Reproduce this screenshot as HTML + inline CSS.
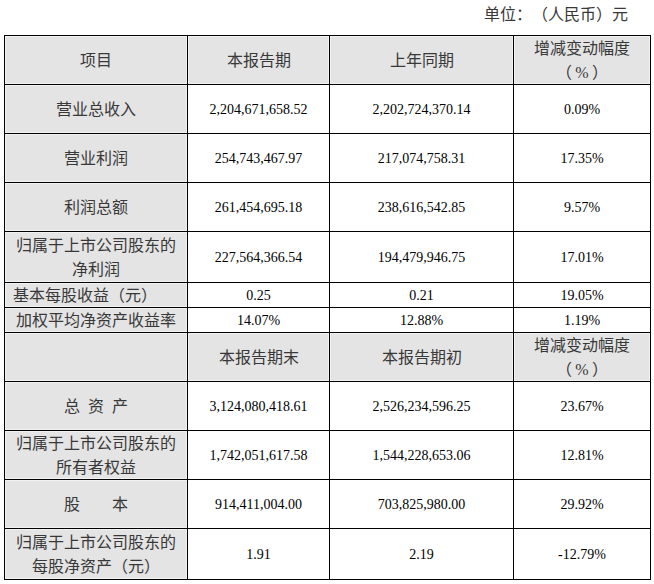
<!DOCTYPE html>
<html lang="zh-CN"><head><meta charset="utf-8"><title>table</title>
<style>
html,body{margin:0;padding:0;background:#fff;}
body{width:654px;height:584px;position:relative;overflow:hidden;text-spacing-trim:space-all;font-family:"Liberation Serif",serif;color:#000;}
.hl{position:absolute;height:1px;background:#000;}
.vl{position:absolute;width:1px;background:#000;}
.g{position:absolute;background:#e4e4e4;box-shadow:inset 0 0 0 1px #f2f2f2;}
.t{position:absolute;display:flex;align-items:center;justify-content:center;text-align:center;white-space:nowrap;}
.cj{color:#383838;font-size:16px;line-height:24px;}
.nm{font-size:14px;line-height:24px;}
.pc{margin:0 3px;}
.unit{color:#383838;position:absolute;font-size:16px;line-height:20px;white-space:nowrap;}
</style></head><body>

<div class="g" style="left:5px;top:36px;width:182px;height:48px"></div>
<div class="g" style="left:188px;top:36px;width:141px;height:48px"></div>
<div class="g" style="left:330px;top:36px;width:183px;height:48px"></div>
<div class="g" style="left:514px;top:36px;width:136px;height:48px"></div>
<div class="g" style="left:5px;top:85px;width:182px;height:48px"></div>
<div class="g" style="left:5px;top:134px;width:182px;height:48px"></div>
<div class="g" style="left:5px;top:183px;width:182px;height:48px"></div>
<div class="g" style="left:5px;top:232px;width:182px;height:50px"></div>
<div class="g" style="left:5px;top:283px;width:182px;height:24px"></div>
<div class="g" style="left:5px;top:308px;width:182px;height:24px"></div>
<div class="g" style="left:5px;top:333px;width:182px;height:48px"></div>
<div class="g" style="left:188px;top:333px;width:141px;height:48px"></div>
<div class="g" style="left:330px;top:333px;width:183px;height:48px"></div>
<div class="g" style="left:514px;top:333px;width:136px;height:48px"></div>
<div class="g" style="left:5px;top:382px;width:182px;height:48px"></div>
<div class="g" style="left:5px;top:431px;width:182px;height:48px"></div>
<div class="g" style="left:5px;top:480px;width:182px;height:48px"></div>
<div class="g" style="left:5px;top:529px;width:182px;height:50px"></div>
<div class="hl" style="left:4px;top:35px;width:647px"></div>
<div class="hl" style="left:4px;top:84px;width:647px"></div>
<div class="hl" style="left:4px;top:133px;width:647px"></div>
<div class="hl" style="left:4px;top:182px;width:647px"></div>
<div class="hl" style="left:4px;top:231px;width:647px"></div>
<div class="hl" style="left:4px;top:282px;width:647px"></div>
<div class="hl" style="left:4px;top:307px;width:647px"></div>
<div class="hl" style="left:4px;top:332px;width:647px"></div>
<div class="hl" style="left:4px;top:381px;width:647px"></div>
<div class="hl" style="left:4px;top:430px;width:647px"></div>
<div class="hl" style="left:4px;top:479px;width:647px"></div>
<div class="hl" style="left:4px;top:528px;width:647px"></div>
<div class="hl" style="left:4px;top:579px;width:647px"></div>
<div class="vl" style="left:4px;top:35px;height:545px"></div>
<div class="vl" style="left:187px;top:35px;height:545px"></div>
<div class="vl" style="left:329px;top:35px;height:545px"></div>
<div class="vl" style="left:513px;top:35px;height:545px"></div>
<div class="vl" style="left:650px;top:35px;height:545px"></div>
<div class="t cj" style="left:5px;top:37px;width:182px;height:48px">项目</div>
<div class="t cj" style="left:188px;top:37px;width:141px;height:48px">本报告期</div>
<div class="t cj" style="left:330px;top:37px;width:183px;height:48px">上年同期</div>
<div class="t cj" style="left:514px;top:37px;width:136px;height:48px"><div>增减变动幅度<br>（<span class="pc">%</span>）</div></div>
<div class="t cj" style="left:5px;top:86px;width:182px;height:48px">营业总收入</div>
<div class="t nm" style="left:188px;top:86px;width:141px;height:48px">2,204,671,658.52</div>
<div class="t nm" style="left:330px;top:86px;width:183px;height:48px">2,202,724,370.14</div>
<div class="t nm" style="left:514px;top:86px;width:136px;height:48px">0.09%</div>
<div class="t cj" style="left:5px;top:135px;width:182px;height:48px">营业利润</div>
<div class="t nm" style="left:188px;top:135px;width:141px;height:48px">254,743,467.97</div>
<div class="t nm" style="left:330px;top:135px;width:183px;height:48px">217,074,758.31</div>
<div class="t nm" style="left:514px;top:135px;width:136px;height:48px">17.35%</div>
<div class="t cj" style="left:5px;top:184px;width:182px;height:48px">利润总额</div>
<div class="t nm" style="left:188px;top:184px;width:141px;height:48px">261,454,695.18</div>
<div class="t nm" style="left:330px;top:184px;width:183px;height:48px">238,616,542.85</div>
<div class="t nm" style="left:514px;top:184px;width:136px;height:48px">9.57%</div>
<div class="t cj" style="left:5px;top:233px;width:182px;height:50px"><div>归属于上市公司股东的<br>净利润</div></div>
<div class="t nm" style="left:188px;top:233px;width:141px;height:50px">227,564,366.54</div>
<div class="t nm" style="left:330px;top:233px;width:183px;height:50px">194,479,946.75</div>
<div class="t nm" style="left:514px;top:233px;width:136px;height:50px">17.01%</div>
<div class="t cj" style="left:5px;top:284px;width:182px;height:24px;justify-content:flex-start;padding-left:8px;box-sizing:border-box">基本每股收益（元）</div>
<div class="t nm" style="left:188px;top:284px;width:141px;height:24px">0.25</div>
<div class="t nm" style="left:330px;top:284px;width:183px;height:24px">0.21</div>
<div class="t nm" style="left:514px;top:284px;width:136px;height:24px">19.05%</div>
<div class="t cj" style="left:5px;top:309px;width:182px;height:24px">加权平均净资产收益率</div>
<div class="t nm" style="left:188px;top:309px;width:141px;height:24px">14.07%</div>
<div class="t nm" style="left:330px;top:309px;width:183px;height:24px">12.88%</div>
<div class="t nm" style="left:514px;top:309px;width:136px;height:24px">1.19%</div>
<div class="t cj" style="left:188px;top:334px;width:141px;height:48px">本报告期末</div>
<div class="t cj" style="left:330px;top:334px;width:183px;height:48px">本报告期初</div>
<div class="t cj" style="left:514px;top:334px;width:136px;height:48px"><div>增减变动幅度<br>（<span class="pc">%</span>）</div></div>
<div class="t cj" style="left:5px;top:383px;width:182px;height:48px"><span>总</span><span style="margin-left:8px">资</span><span style="margin-left:8px">产</span></div>
<div class="t nm" style="left:188px;top:383px;width:141px;height:48px">3,124,080,418.61</div>
<div class="t nm" style="left:330px;top:383px;width:183px;height:48px">2,526,234,596.25</div>
<div class="t nm" style="left:514px;top:383px;width:136px;height:48px">23.67%</div>
<div class="t cj" style="left:5px;top:432px;width:182px;height:48px"><div>归属于上市公司股东的<br>所有者权益</div></div>
<div class="t nm" style="left:188px;top:432px;width:141px;height:48px">1,742,051,617.58</div>
<div class="t nm" style="left:330px;top:432px;width:183px;height:48px">1,544,228,653.06</div>
<div class="t nm" style="left:514px;top:432px;width:136px;height:48px">12.81%</div>
<div class="t cj" style="left:5px;top:481px;width:182px;height:48px"><span>股</span><span style="margin-left:32px">本</span></div>
<div class="t nm" style="left:188px;top:481px;width:141px;height:48px">914,411,004.00</div>
<div class="t nm" style="left:330px;top:481px;width:183px;height:48px">703,825,980.00</div>
<div class="t nm" style="left:514px;top:481px;width:136px;height:48px">29.92%</div>
<div class="t cj" style="left:5px;top:530px;width:182px;height:50px"><div>归属于上市公司股东的<br>每股净资产（元）</div></div>
<div class="t nm" style="left:188px;top:530px;width:141px;height:50px">1.91</div>
<div class="t nm" style="left:330px;top:530px;width:183px;height:50px">2.19</div>
<div class="t nm" style="left:514px;top:530px;width:136px;height:50px">-12.79%</div>
<div class="unit" style="left:484px;top:5px">单位：（人民币）元</div>
</body></html>
